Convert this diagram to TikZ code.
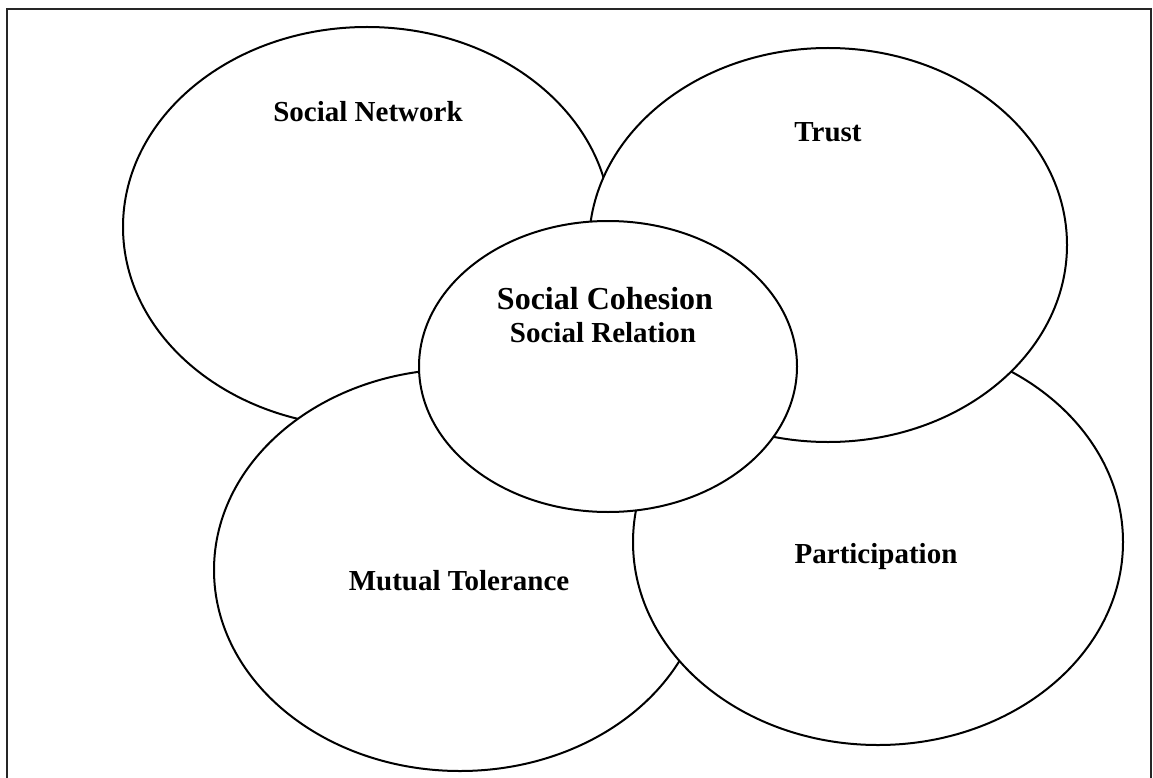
\documentclass[tikz,border=0pt]{standalone}
\usepackage{fontspec}
\setmainfont{Liberation Serif}
\usetikzlibrary{shapes.geometric}
\begin{document}
\begin{tikzpicture}[x=1pt,y=-1pt,
  blob/.style={ellipse,draw=black,line width=2pt,fill=white,inner sep=0pt},
  lbl/.style={font=\bfseries\fontsize{29}{34}\selectfont,inner sep=0pt},
  lblbig/.style={font=\bfseries\fontsize{32}{38}\selectfont,inner sep=0pt}]
\useasboundingbox (0,0) rectangle (1153,778);
\begin{scope}
\clip (0,0) rectangle (1153,778);
\draw[line width=1.6pt,draw=black!85] (7,9) rectangle (1151,800);
\end{scope}
\node[blob,minimum width=488pt,minimum height=400pt] (sn) at (367,227) {};
\node[blob,minimum width=492pt,minimum height=402pt] (mt) at (460,570) {};
\node[blob,minimum width=490pt,minimum height=406pt] (pa) at (878,542) {};
\node[blob,minimum width=478pt,minimum height=394pt] (tr) at (828,245) {};
\node[blob,minimum width=378pt,minimum height=291pt] (sc) at (608,366.5) {};
\node[lbl] (tsn) at (368,112) {Social Network};
\node[lbl] (ttr) at (828,132) {Trust};
\node[lblbig] (tsc) at (605,299) {Social Cohesion};
\node[lbl] (tsr) at (603,333) {Social Relation};
\node[lbl] (tmt) at (459,581) {Mutual Tolerance};
\node[lbl] (tpa) at (876,557) {Participation};
\end{tikzpicture}
\end{document}
